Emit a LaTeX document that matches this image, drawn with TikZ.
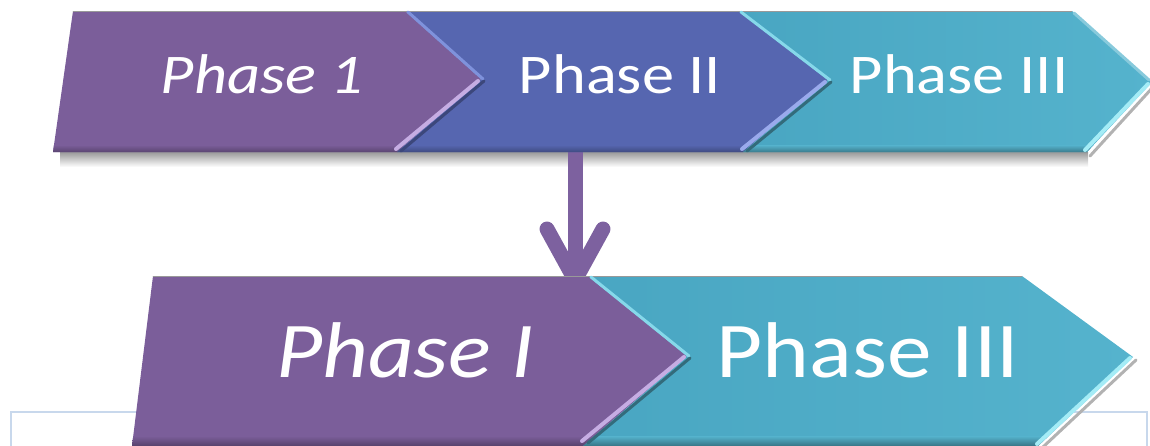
\documentclass[tikz,border=0pt]{standalone}
\usepackage{fontspec}
\usepackage{graphicx}
\usetikzlibrary{calc}
\setmainfont{Carlito}
\definecolor{phpurple}{HTML}{7B5E9A}
\definecolor{phblue}{HTML}{5666B0}
\definecolor{phteal}{HTML}{55B3CD}
\definecolor{phtealdk}{HTML}{49A6C2}
\definecolor{arrowpurple}{HTML}{7D619F}
\definecolor{frameblue}{HTML}{C8D8EC}
\definecolor{hlpurple}{HTML}{C6ADE3}
\definecolor{hlblue}{HTML}{9AAAEC}
\definecolor{hlteal}{HTML}{A4ECF6}
\definecolor{nbblue}{HTML}{7F92DC}
\definecolor{nbteal}{HTML}{86D8EA}
\newcommand\widetext[2]{\scalebox{#1}[1]{#2}}
\begin{document}
\begin{tikzpicture}[x=1pt,y=-1pt,
  lbl/.style={text=white, anchor=base, inner sep=0pt},
  toplbl/.style={lbl, font=\fontsize{56}{60}\selectfont},
  botlbl/.style={lbl, font=\fontsize{79}{84}\selectfont},
  hilite/.style={line width=4, line cap=round},
  shadeline/.style={line width=3, line cap=round},
  notchline/.style={line width=3, line cap=round},
  flowarrow/.style={arrowpurple, line width=15},
]
\useasboundingbox (0,0) rectangle (1150,445);

% chevron outlines (top row, then bottom row)
\def\chA{(73,11) -- (405,11) -- (481,79) -- (397,152) -- (53,152) -- cycle}
\def\chB{(405,11) -- (738,11) -- (828,80) -- (743,152) -- (397,152) -- (481,79) -- cycle}
\def\chC{(738,11) -- (1072,11) -- (1152,82) -- (1087,152) -- (743,152) -- (828,80) -- cycle}
\def\chD{(153,276) -- (588,276) -- (687,356) -- (583,446) -- (132,446) -- cycle}
\def\chE{(588,276) -- (1022,276) -- (1133,357) -- (1038,446) -- (583,446) -- (687,356) -- cycle}

% light frame behind the lower row
\draw[frameblue, line width=2.5] (11,446) -- (11,412) -- (1147,412) -- (1147,446);

% soft shadow under the upper row
\shade[top color=black!40, bottom color=white] (60,152) rectangle (1088,167);

% connector from Phase II down to the lower row
\coordinate (src) at (575,150);
\coordinate (dst) at (575,280);
\draw[flowarrow] (src) -- (dst);
\draw[flowarrow, line cap=round, line join=miter]
  ($(dst)+(-28,-51)$) -- (dst) -- ($(dst)+(28,-51)$);

% ---------- lower row ----------
\fill[phpurple] \chD;
\shade[left color=phtealdk, right color=phteal] \chE;
\begin{scope}
  \clip \chD;
  \shade[top color=phpurple, bottom color=phpurple!70!black] (0,436) rectangle (1150,446);
\end{scope}
\begin{scope}
  \clip \chE;
  \shade[top color=phteal, bottom color=phteal!65!black] (0,436) rectangle (1150,446);
\end{scope}
\draw[black!40, line width=0.8] (153,276) -- (1022,276);
\draw[notchline, nbteal] (591,277) -- (689,356);
\draw[shadeline, phteal!60!black] (690,358) -- (588,443);
\draw[hilite, hlpurple] (684,357) -- (582,441);
\draw[shadeline, black!30] (1136,360) -- (1043,447);
\draw[hilite, hlteal] (1130,358) -- (1037,444);

% ---------- upper row ----------
\fill[phpurple] \chA;
\fill[phblue] \chB;
\shade[left color=phtealdk, right color=phteal] \chC;
\begin{scope}
  \clip \chA;
  \shade[top color=phpurple, bottom color=phpurple!70!black] (0,145) rectangle (1150,153);
\end{scope}
\begin{scope}
  \clip \chB;
  \shade[top color=phblue, bottom color=phblue!70!black] (0,145) rectangle (1150,153);
\end{scope}
\begin{scope}
  \clip \chC;
  \shade[top color=phteal, bottom color=phteal!65!black] (0,145) rectangle (1150,153);
\end{scope}
\draw[black!40, line width=0.8] (73,11) -- (1072,11);
% bevel along the chevron joints
\draw[notchline, nbblue] (408,12) -- (483,79);
\draw[shadeline, phblue!70!black] (484,81) -- (401,151);
\draw[hilite, hlpurple] (478,81) -- (396,149);
\draw[notchline, nbteal] (741,12) -- (830,80);
\draw[shadeline, phteal!60!black] (831,82) -- (747,151);
\draw[hilite, hlblue] (825,82) -- (742,149);
\draw[notchline, phteal!70!white] (1074,13) -- (1149,80);
\draw[shadeline, black!30] (1154,86) -- (1090,156);
\draw[hilite, hlteal] (1148,84) -- (1085,150);

% ---------- labels ----------
\node[toplbl] (t1) at (262,93) {\widetext{1.15}{\itshape Phase 1}};
\node[toplbl] (t2) at (620,93) {\widetext{1.15}{Phase II}};
\node[toplbl] (t3) at (959,93) {\widetext{1.15}{Phase III}};
\node[botlbl] (b1) at (405,377) {\widetext{1.13}{\itshape Phase I}};
\node[botlbl] (b3) at (868,377) {\widetext{1.13}{Phase III}};
\end{tikzpicture}
\end{document}
